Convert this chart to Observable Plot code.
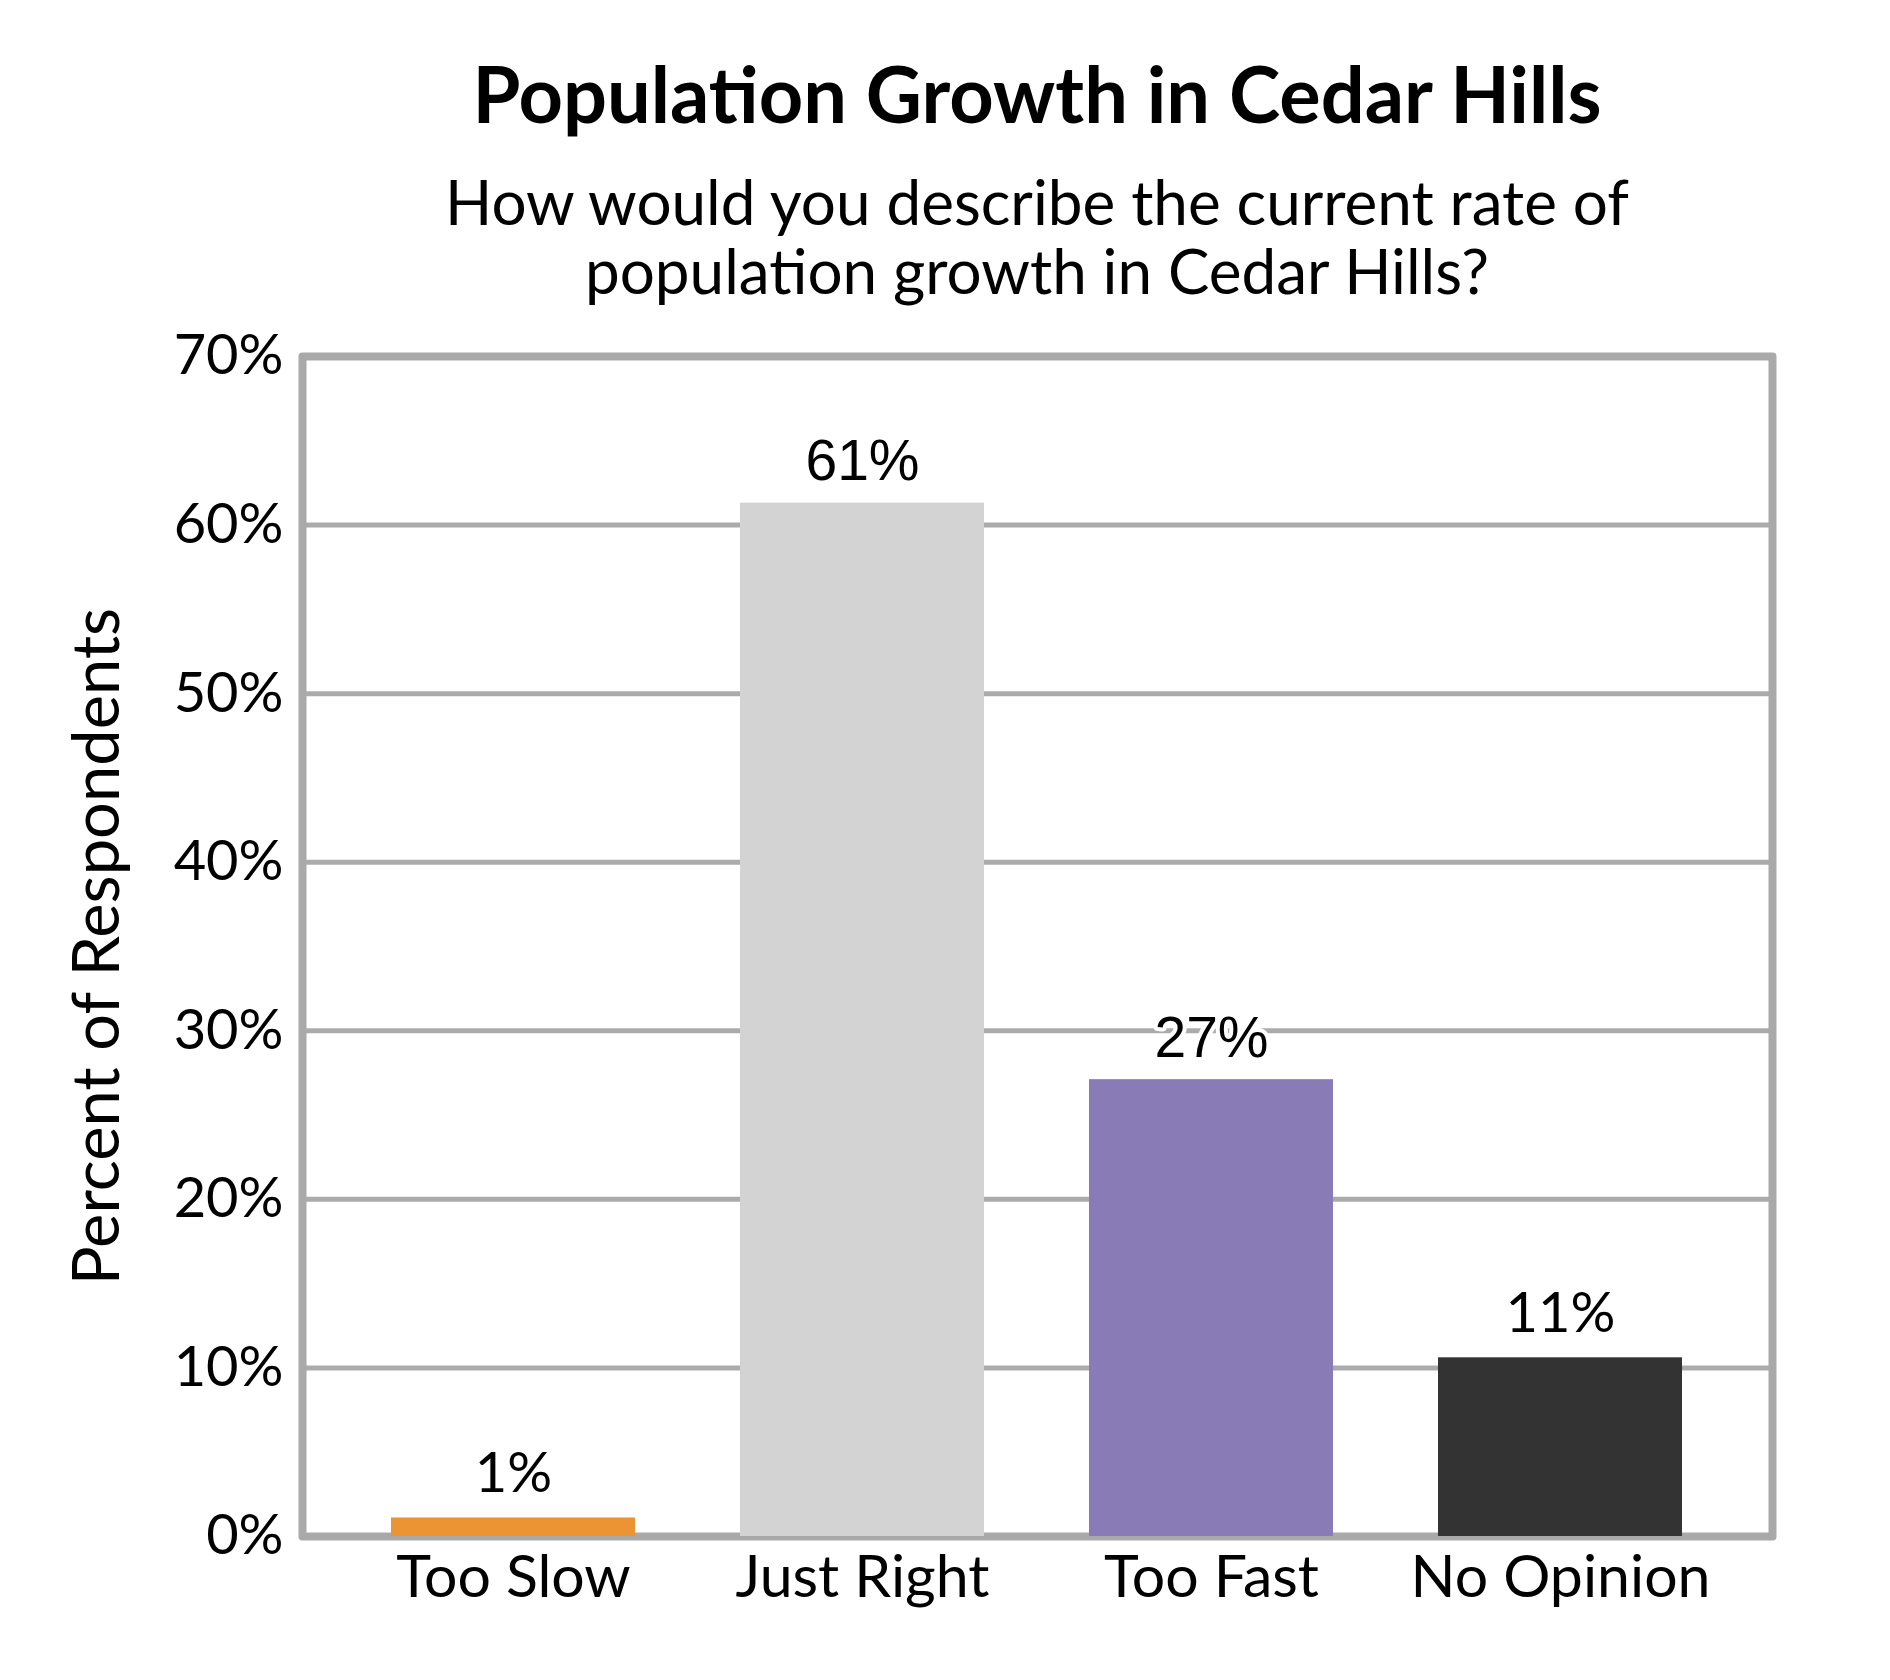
<!DOCTYPE html>
<html>
<head>
<meta charset="utf-8">
<script src="https://cdn.jsdelivr.net/npm/d3@7"></script>
<script src="https://cdn.jsdelivr.net/npm/@observablehq/plot@0.6"></script>
<style>
  html, body { margin: 0; padding: 0; background: #fff; }
  #wrap { position: relative; width: 1890px; height: 1680px; background: #fff; color: #000; }
  .title { position: absolute; left: 302px; width: 1470px; text-align: center; font-family: Lato, sans-serif; font-weight: 700; font-size: 77.5px; line-height: 77.5px; top: 55px; margin: 0; white-space: nowrap; z-index: 2; }
  .subtitle { position: absolute; left: 302px; width: 1470px; text-align: center; font-family: Lato, sans-serif; font-weight: 400; font-size: 62px; line-height: 69px; top: 167px; margin: 0; z-index: 2; }
  #chart { position: absolute; left: 0; top: 300px; z-index: 1; }
</style>
</head>
<body>
<div id="wrap">
  <h1 class="title">Population Growth in Cedar Hills</h1>
  <div class="subtitle">How would you describe the current rate of<br>population growth in Cedar Hills?</div>
  <div id="chart"></div>
</div>
<script>
// Data
const categories = ["Too Slow", "Just Right", "Too Fast", "No Opinion"];
const percents = [1.1, 61.3, 27.1, 10.6];
const yTicks = [0, 10, 20, 30, 40, 50, 60, 70];
const barColors = ["#EC9434", "#D3D3D3", "#887BB6", "#333333"];

const rows = categories.map((c, i) => ({category: c, value: percents[i], label: Math.round(percents[i]) + "%"}));
const arialLabels = rows.filter(d => d.category === "Just Right" || d.category === "Too Fast");
const lightLabels = rows.filter(d => !(d.category === "Just Right" || d.category === "Too Fast"));

const W = 1890, H = 1380;
const chart = Plot.plot({
  width: W,
  height: H,
  marginTop: 56,
  marginBottom: 144,
  marginLeft: 302,
  marginRight: 118,
  style: {background: "transparent", color: "#000", overflow: "visible"},
  x: {type: "band", domain: categories, range: [337, 1736], paddingInner: 0.3, paddingOuter: 0.15},
  y: {domain: [0, 70]},
  color: {domain: categories, range: barColors},
  marks: [
    Plot.ruleY(yTicks.filter(t => t > 0 && t < 70), {stroke: "#ababab", strokeWidth: 5}),
    Plot.frame({stroke: "#a9a9a9", strokeWidth: 8, strokeLinejoin: "round"}),
    Plot.barY(rows, {x: "category", y: "value", fill: "category", inset: 0}),
    Plot.text(arialLabels, {x: "category", y: "value", text: "label", lineAnchor: "bottom", dy: -23,
      fontFamily: "Liberation Sans, Arial, sans-serif", fontSize: 57, fill: "#000",
      stroke: "#fff", strokeWidth: 8, paintOrder: "stroke"}),
    Plot.text(lightLabels, {x: "category", y: "value", text: "label", lineAnchor: "bottom", dy: -26,
      fontFamily: "Lato, sans-serif", fontSize: 56, fill: "#000",
      stroke: "#fff", strokeWidth: 8, paintOrder: "stroke"}),
    Plot.axisY({ticks: yTicks, tickFormat: d => d + "%", tickSize: 0, tickPadding: 19,
      fontSize: 56, fontFamily: "Lato, sans-serif", label: null}),
    Plot.axisX({tickSize: 0, tickPadding: 19, fontSize: 59, fontFamily: "Lato, sans-serif", label: null}),
    Plot.text(["Percent of Respondents"], {frameAnchor: "left", dx: -184, rotate: -90, lineAnchor: "bottom",
      textAnchor: "middle", fontSize: 65, fontFamily: "Lato, sans-serif", fill: "#000"})
  ]
});
document.getElementById("chart").appendChild(chart);
</script>
</body>
</html>
